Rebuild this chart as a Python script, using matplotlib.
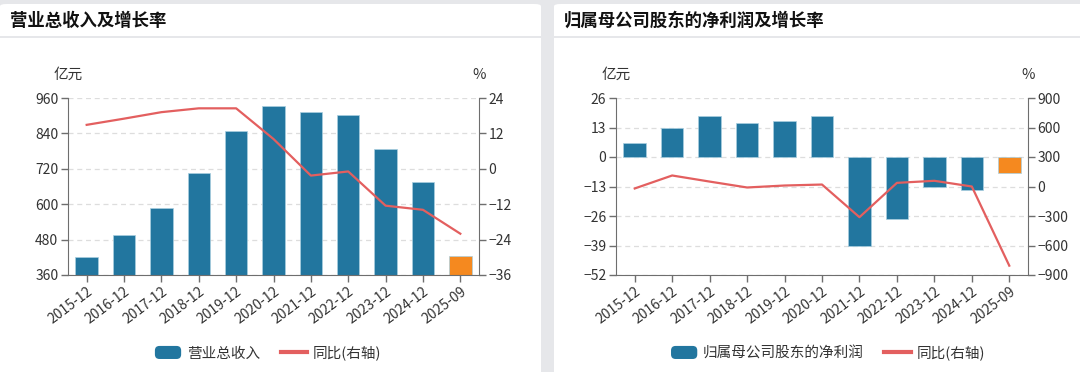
import matplotlib
matplotlib.use('Agg')
from matplotlib import pyplot as plt
from matplotlib.patches import FancyBboxPatch, Patch, Rectangle
from matplotlib.lines import Line2D
from matplotlib.legend_handler import HandlerPatch
import numpy as np

plt.rcParams['font.family'] = ['Noto Sans CJK SC', 'DejaVu Sans']

# data
periods = ['2015-12', '2016-12', '2017-12', '2018-12', '2019-12', '2020-12',
           '2021-12', '2022-12', '2023-12', '2024-12', '2025-09']
revenue = [422, 494, 588, 705, 849, 932, 912, 902, 787, 676, 426]        # 亿元
revenue_yoy = [14.9, 17.0, 19.2, 20.5, 20.5, 10.1, -2.3, -0.9, -12.5, -13.9, -22.0]
profit = [6.2, 12.7, 18.2, 15.0, 15.7, 17.9, -39.1, -27.4, -13.2, -14.4, -7.1]
profit_yoy = [-20, 112, 50, -10, 10, 20, -312, 37, 58, 0, -805]

rev_ticks = [360, 480, 600, 720, 840, 960]
rev_yoy_ticks = [-36, -24, -12, 0, 12, 24]
prof_ticks = [-52, -39, -26, -13, 0, 13, 26]
prof_yoy_ticks = [-900, -600, -300, 0, 300, 600, 900]

BLUE = '#22769f'
ORANGE = '#f5891f'
RED = '#e35f5f'
GRAY_BG = '#e6e7ea'
AXIS = '#6e6e6e'
LABEL = '#333333'

W, H = 1080, 372
fig = plt.figure(figsize=(W / 100, H / 100), dpi=100)
fig.patch.set_facecolor(GRAY_BG)


def fx(px):
    return px / W


def fy(py):
    # py measured from the top of the picture
    return 1 - py / H


class RoundHandler(HandlerPatch):
    def create_artists(self, legend, orig_handle, xdescent, ydescent, width, height, fontsize, trans):
        p = FancyBboxPatch((-xdescent, -ydescent), width, height,
                           boxstyle='round,pad=0,rounding_size=%f' % (height * 0.35),
                           fc=orig_handle.get_facecolor(), ec='none', transform=trans)
        return [p]


def panel(x0, x1, title):
    # white card with a title bar
    card = FancyBboxPatch((fx(x0), fy(390)), fx(x1 - x0), (390 - 4) / H,
                          boxstyle='round,pad=0,rounding_size=0.006',
                          fc='white', ec='none', transform=fig.transFigure, zorder=0)
    fig.add_artist(card)
    sep = Rectangle((fx(x0), fy(38)), fx(x1 - x0), 2 / H, fc=GRAY_BG, ec='none',
                    transform=fig.transFigure, zorder=1)
    fig.add_artist(sep)
    fig.text(fx(x0 + 10), fy(21), title, fontsize=12.5, weight='bold', color='#111111',
             va='center', ha='left')


def chart(left, right, vals, yoy, ticks, yoy_ticks, bar_name, legend_x):
    ax = fig.add_axes([fx(left), fy(275), fx(right - left), 177 / H])
    x = np.arange(len(periods))
    colors = [BLUE] * (len(periods) - 1) + [ORANGE]
    ax.bar(x, vals, width=0.6, color=colors, edgecolor='#a9cfe0', linewidth=0.5, zorder=2)
    ax.set_xlim(-0.5, len(periods) - 0.5)
    ax.set_ylim(ticks[0], ticks[-1])
    ax.set_yticks(ticks)
    ax.set_axisbelow(True)
    ax.yaxis.grid(True, linestyle=(0, (4, 3)), color='#dddddd', linewidth=0.9)
    ax.set_xticks(x)
    ax.set_xticklabels(periods, rotation=37, ha='right', va='top', rotation_mode='anchor')
    ax.tick_params(axis='both', length=5, width=1, color=AXIS, labelcolor=LABEL,
                   labelsize=10, pad=2)
    for s in ['top', 'right']:
        ax.spines[s].set_visible(False)
    for s in ['left', 'bottom']:
        ax.spines[s].set_color(AXIS)

    ax2 = ax.twinx()
    ax2.plot(x, yoy, color=RED, linewidth=1.6, zorder=3)
    ax2.set_ylim(yoy_ticks[0], yoy_ticks[-1])
    ax2.set_yticks(yoy_ticks)
    ax2.tick_params(axis='y', length=5, width=1, color=AXIS, labelcolor=LABEL,
                    labelsize=10, pad=2)
    for s in ['top', 'left', 'bottom']:
        ax2.spines[s].set_visible(False)
    ax2.spines['right'].set_color(AXIS)

    ax.text(0, 1.13, '亿元', transform=ax.transAxes, ha='center', va='center',
            fontsize=10.5, color=LABEL)
    ax.text(1, 1.13, '%', transform=ax.transAxes, ha='center', va='center',
            fontsize=10.5, color=LABEL)

    handles = [Patch(facecolor=BLUE, label=bar_name),
               Line2D([], [], color=RED, linewidth=3, label='同比(右轴)')]
    fig.legend(handles=handles, loc='center', bbox_to_anchor=(fx(legend_x), fy(353)),
               ncol=2, frameon=False, fontsize=10.5, handlelength=1.8, handleheight=1.0,
               handletextpad=0.4, columnspacing=1.4, labelcolor=LABEL,
               handler_map={Patch: RoundHandler()})
    return ax, ax2


panel(0, 541, '营业总收入及增长率')
panel(554, 1100, '归属母公司股东的净利润及增长率')

chart(68, 479, revenue, revenue_yoy, rev_ticks, rev_yoy_ticks, '营业总收入', 268)
chart(616, 1028, profit, profit_yoy, prof_ticks, prof_yoy_ticks, '归属母公司股东的净利润', 828)

fig.savefig('out.png', dpi=100, facecolor=fig.get_facecolor())
